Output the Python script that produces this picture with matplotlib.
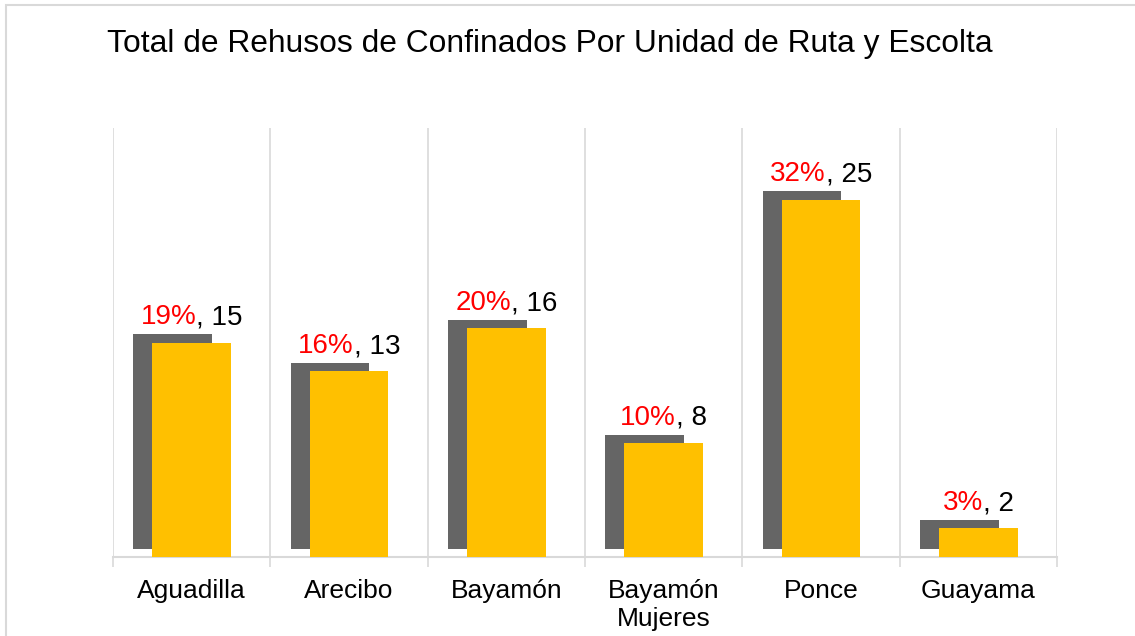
import matplotlib
matplotlib.use("Agg")
import matplotlib.pyplot as plt
import matplotlib.patheffects as pe
from matplotlib.patches import Rectangle

# === DATA ===
categories = ["Aguadilla", "Arecibo", "Bayamón", "Bayamón\nMujeres", "Ponce", "Guayama"]
totals = [15, 13, 16, 8, 25, 2]
pct_labels = ["19%", "16%", "20%", "10%", "32%", "3%"]

TITLE = "Total de Rehusos de Confinados Por Unidad de Ruta y Escolta"
BAR_COLOR = "#FFC000"
SHADOW_COLOR = "#656565"
GRID_COLOR = "#D9D9D9"
DPI = 100

plt.rcParams["font.family"] = ["Liberation Sans", "DejaVu Sans"]

fig = plt.figure(figsize=(11.35, 6.36), dpi=DPI)
ax = fig.add_axes([113 / 1135, 79 / 636, 944 / 1135, 429 / 636])

# outer chart border (only top and left visible in the reference)
fig.patches.append(Rectangle((6 / 1135, -0.1), 1.2, 0.1 + (636 - 5) / 636,
                             transform=fig.transFigure, fill=False,
                             edgecolor=GRID_COLOR, linewidth=1.5))

x = list(range(len(categories)))
shadow = [pe.SimplePatchShadow(offset=(-13.7, 5.8), shadow_rgbFace=SHADOW_COLOR, alpha=1.0),
          pe.Normal()]
bars = ax.bar(x, totals, width=0.5, color=BAR_COLOR, zorder=3)
for b in bars:
    b.set_path_effects(shadow)

ax.set_xlim(-0.5, len(categories) - 0.5)
ax.set_ylim(0, 30)

# === AXIS & STYLE ===
ax.set_xticks(x)
ax.set_xticklabels(categories, fontsize=19, linespacing=1.25)
ax.set_xticks([i - 0.5 for i in range(len(categories) + 1)], minor=True)
ax.tick_params(axis="x", which="major", length=0, pad=15.5)
ax.tick_params(axis="x", which="minor", length=7, width=1.2, color=GRID_COLOR)
ax.set_yticks([])
ax.grid(True, axis="x", which="minor", color=GRID_COLOR, linewidth=1.2, zorder=0)
for s in ["top", "right", "left"]:
    ax.spines[s].set_visible(False)
ax.spines["bottom"].set_color(GRID_COLOR)
ax.spines["bottom"].set_linewidth(1.5)

fig.text(107 / 1135, (636 - 52) / 636, TITLE, fontsize=22.9, ha="left", va="baseline")

# === DATA LABELS (red percentage + black total) ===
pairs = []
for i, v in enumerate(totals):
    red = ax.annotate(pct_labels[i], xy=(i, v), xytext=(0, 13), textcoords="offset points",
                      ha="left", va="baseline", color="#FF0000", fontsize=20)
    black = ax.annotate(f", {v}", xy=(1, 0), xycoords=red, ha="left", va="bottom",
                        color="black", fontsize=20)
    pairs.append((red, black))

fig.canvas.draw()
for red, black in pairs:
    w = red.get_window_extent().width + black.get_window_extent().width
    red.xyann = (-w / 2 * 72 / DPI, 13)

fig.savefig("out.png", dpi=DPI)
